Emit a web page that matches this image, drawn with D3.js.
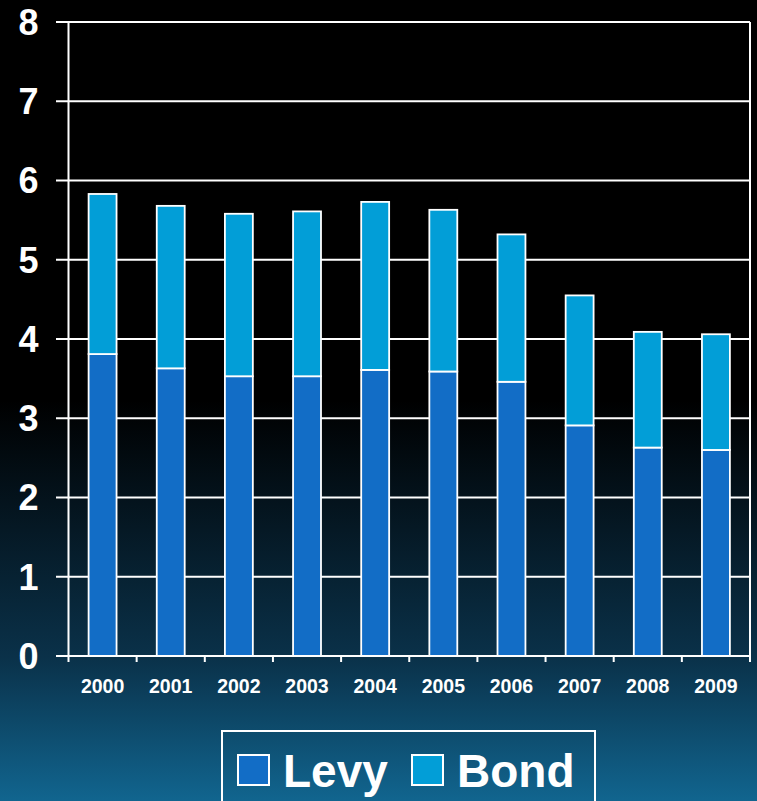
<!DOCTYPE html>
<meta charset="utf-8">
<head>
  <style>
    body { margin:0; background:#000; }
    svg { display:block; }
    text { font-family: Arial, "Liberation Sans", sans-serif; font-weight:bold; fill:#fff; }
  </style>
  <script src="https://d3js.org/d3.v7.min.js"></script>
</head>
<body>
<svg></svg>
<script>
  // data
  var years = ["2000","2001","2002","2003","2004","2005","2006","2007","2008","2009"]
  var levy  = [3.81, 3.63, 3.53, 3.53, 3.61, 3.59, 3.46, 2.91, 2.63, 2.60]
  var bond  = [2.02, 2.05, 2.05, 2.08, 2.12, 2.04, 1.86, 1.64, 1.46, 1.46]
  var seriesNames = ["Levy", "Bond"]
  var seriesColors = ["#126dc6", "#029ed7"]
  var yTicks = [0,1,2,3,4,5,6,7,8]

  var width = 757, height = 801
  var svg = d3.select('svg').attr('width', width).attr('height', height)

  // background gradient, black on top fading to blue at the bottom
  var defs = svg.append('defs')
  var grad = defs.append('linearGradient').attr('id','bg')
    .attr('x1',0).attr('y1',0).attr('x2',0).attr('y2',1)
  grad.append('stop').attr('offset','0%').attr('stop-color','#000000')
  grad.append('stop').attr('offset','50%').attr('stop-color','#000000')
  grad.append('stop').attr('offset','82%').attr('stop-color','#0a3149')
  grad.append('stop').attr('offset','100%').attr('stop-color','#11658f')
  svg.append('rect').attr('width',width).attr('height',height).attr('fill','url(#bg)')

  var plotLeft = 68.5, plotRight = 750, plotTop = 22, plotBottom = 656

  var x = d3.scaleBand().domain(years).range([plotLeft, plotRight]).paddingInner(0.59).paddingOuter(0.295)
  var xTicks = d3.scaleBand().domain(years).range([plotLeft, plotRight])
  var y = d3.scaleLinear().domain([0, 8]).range([plotBottom, plotTop])

  // gridlines
  svg.append('g').selectAll('line').data(yTicks.filter(function (d) { return d > 0 }))
    .enter().append('line')
      .attr('x1', 56).attr('x2', plotRight)
      .attr('y1', function (d) { return y(d) }).attr('y2', function (d) { return y(d) })
      .attr('stroke','#fff').attr('stroke-width',2)

  // stacked bars
  var rows = years.map(function (yr, i) { return { year: yr, Levy: levy[i], Bond: bond[i] } })
  var stack = d3.stack().keys(seriesNames)(rows)
  svg.append('g').selectAll('g').data(stack).enter().append('g')
    .attr('fill', function (d, i) { return seriesColors[i] })
    .selectAll('rect').data(function (d) { return d }).enter().append('rect')
      .attr('x', function (d) { return x(d.data.year) })
      .attr('width', x.bandwidth())
      .attr('y', function (d) { return y(d[1]) })
      .attr('height', function (d) { return y(d[0]) - y(d[1]) })
      .attr('stroke','#fff').attr('stroke-width',1.8)

  // frame: left axis, right border, bottom axis
  svg.append('line').attr('x1',plotLeft).attr('x2',plotLeft).attr('y1',plotTop).attr('y2',plotBottom+6)
    .attr('stroke','#fff').attr('stroke-width',2)
  svg.append('line').attr('x1',plotRight).attr('x2',plotRight).attr('y1',plotTop).attr('y2',plotBottom+6)
    .attr('stroke','#fff').attr('stroke-width',2)
  svg.append('line').attr('x1',56).attr('x2',plotRight+1).attr('y1',plotBottom).attr('y2',plotBottom)
    .attr('stroke','#fff').attr('stroke-width',2)

  // x tick marks at band boundaries
  svg.append('g').selectAll('line').data(years.slice(1))
    .enter().append('line')
      .attr('x1', function (d) { return xTicks(d) }).attr('x2', function (d) { return xTicks(d) })
      .attr('y1', plotBottom).attr('y2', plotBottom+6)
      .attr('stroke','#fff').attr('stroke-width',2)

  // y labels
  svg.append('g').selectAll('text').data(yTicks).enter().append('text')
    .attr('x', 38.5).attr('y', function (d) { return y(d) })
    .attr('dy', '0.36em').attr('text-anchor','end')
    .attr('font-size', 36)
    .text(function (d) { return d })

  // x labels
  svg.append('g').selectAll('text').data(years).enter().append('text')
    .attr('x', function (d) { return xTicks(d) + xTicks.bandwidth()/2 })
    .attr('y', 693).attr('text-anchor','middle')
    .attr('font-size', 19.5)
    .text(function (d) { return d })

  // legend
  var legend = svg.append('g')
  legend.append('rect').attr('x',222).attr('y',731).attr('width',373).attr('height',90)
    .attr('fill','none').attr('stroke','#fff').attr('stroke-width',2)
  var legX = [238, 412]
  seriesNames.forEach(function (name, i) {
    legend.append('rect').attr('x', legX[i]).attr('y', 755).attr('width', 31).attr('height', 30)
      .attr('fill', seriesColors[i]).attr('stroke','#fff').attr('stroke-width',2)
    legend.append('text').attr('x', legX[i] + 45).attr('y', 787)
      .attr('font-size', 46).text(name)
  })
</script>
</body>
